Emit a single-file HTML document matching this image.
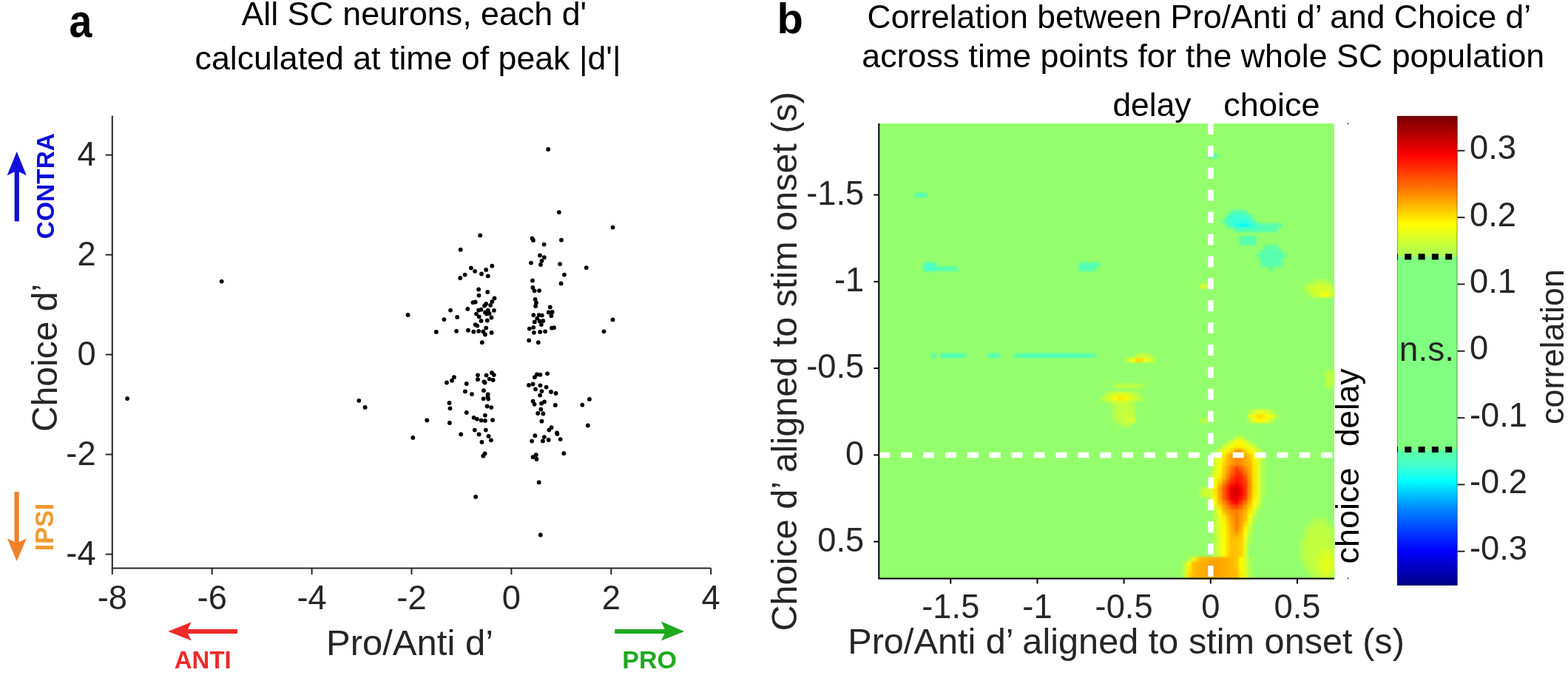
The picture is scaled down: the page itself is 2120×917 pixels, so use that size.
<!DOCTYPE html><html><head><meta charset="utf-8"><title>SC neurons d-prime figure</title><style>html,body{margin:0;padding:0;background:#fff;width:2120px;height:917px;overflow:hidden}svg{display:block}text{font-family:'Liberation Sans', Arial, Helvetica, sans-serif}</style></head><body>
<svg width="2120" height="917" viewBox="0 0 2120 917">
<rect width="2120" height="917" fill="#fff"/>
<g id="panel-a">
<text transform="translate(93.6 49.7) scale(0.955 1.10)" font-size="58" font-weight="bold" fill="#000">a</text>
<text x="326.40" y="34.40" font-size="44.81" font-weight="normal" fill="#000">All SC neurons, each d'</text>
<text x="263.56" y="93.60" font-size="44.71" font-weight="normal" fill="#000">calculated at time of peak |d'|</text>
<path d="M151.8 156.4V768.4H961.2" fill="none" stroke="#262626" stroke-width="2"/>
<path d="M142.8 749.6H151.8" stroke="#262626" stroke-width="2"/>
<text x="129.6" y="763.5" font-size="45.3" text-anchor="end" fill="#262626">-4</text>
<path d="M142.8 614.6H151.8" stroke="#262626" stroke-width="2"/>
<text x="129.6" y="628.5" font-size="45.3" text-anchor="end" fill="#262626">-2</text>
<path d="M142.8 479.6H151.8" stroke="#262626" stroke-width="2"/>
<text x="129.6" y="493.5" font-size="45.3" text-anchor="end" fill="#262626">0</text>
<path d="M142.8 344.6H151.8" stroke="#262626" stroke-width="2"/>
<text x="129.6" y="358.5" font-size="45.3" text-anchor="end" fill="#262626">2</text>
<path d="M142.8 209.6H151.8" stroke="#262626" stroke-width="2"/>
<text x="129.6" y="223.5" font-size="45.3" text-anchor="end" fill="#262626">4</text>
<path d="M151.8 768.4V777" stroke="#262626" stroke-width="2"/>
<text x="151.8" y="823.8" font-size="45.3" text-anchor="middle" fill="#262626">-8</text>
<path d="M286.7 768.4V777" stroke="#262626" stroke-width="2"/>
<text x="286.7" y="823.8" font-size="45.3" text-anchor="middle" fill="#262626">-6</text>
<path d="M421.6 768.4V777" stroke="#262626" stroke-width="2"/>
<text x="421.6" y="823.8" font-size="45.3" text-anchor="middle" fill="#262626">-4</text>
<path d="M556.5 768.4V777" stroke="#262626" stroke-width="2"/>
<text x="556.5" y="823.8" font-size="45.3" text-anchor="middle" fill="#262626">-2</text>
<path d="M691.4 768.4V777" stroke="#262626" stroke-width="2"/>
<text x="691.4" y="823.8" font-size="45.3" text-anchor="middle" fill="#262626">0</text>
<path d="M826.3 768.4V777" stroke="#262626" stroke-width="2"/>
<text x="826.3" y="823.8" font-size="45.3" text-anchor="middle" fill="#262626">2</text>
<path d="M961.2 768.4V777" stroke="#262626" stroke-width="2"/>
<text x="961.2" y="823.8" font-size="45.3" text-anchor="middle" fill="#262626">4</text>
<text x="440.98" y="886.30" font-size="49.01" font-weight="normal" fill="#262626">Pro/Anti d’</text>
<text transform="translate(77.00 584.04) rotate(-90)" font-size="48.03" font-weight="normal" fill="#262626">Choice d’</text>
<g fill="#000">
<circle cx="299.7" cy="380.6" r="2.9"/>
<circle cx="172.1" cy="539.1" r="2.9"/>
<circle cx="485.3" cy="541.8" r="2.9"/>
<circle cx="493.6" cy="550.9" r="2.9"/>
<circle cx="551.6" cy="426.0" r="2.9"/>
<circle cx="577.3" cy="568.4" r="2.9"/>
<circle cx="558.3" cy="591.9" r="2.9"/>
<circle cx="643.2" cy="671.9" r="2.9"/>
<circle cx="741.2" cy="201.9" r="2.9"/>
<circle cx="755.9" cy="287.1" r="2.9"/>
<circle cx="728.7" cy="652.4" r="2.9"/>
<circle cx="730.8" cy="723.5" r="2.9"/>
<circle cx="649.2" cy="318.4" r="2.9"/>
<circle cx="622.7" cy="337.7" r="2.9"/>
<circle cx="665.3" cy="359.7" r="2.9"/>
<circle cx="636.9" cy="362.5" r="2.9"/>
<circle cx="642.1" cy="366.8" r="2.9"/>
<circle cx="657.2" cy="364.9" r="2.9"/>
<circle cx="651.0" cy="370.5" r="2.9"/>
<circle cx="659.8" cy="373.3" r="2.9"/>
<circle cx="628.6" cy="371.6" r="2.9"/>
<circle cx="622.3" cy="376.0" r="2.9"/>
<circle cx="647.1" cy="391.4" r="2.9"/>
<circle cx="659.2" cy="395.0" r="2.9"/>
<circle cx="647.5" cy="399.6" r="2.9"/>
<circle cx="668.5" cy="403.3" r="2.9"/>
<circle cx="665.3" cy="407.9" r="2.9"/>
<circle cx="639.4" cy="409.1" r="2.9"/>
<circle cx="642.7" cy="408.5" r="2.9"/>
<circle cx="657.2" cy="410.9" r="2.9"/>
<circle cx="655.1" cy="413.5" r="2.9"/>
<circle cx="663.1" cy="412.8" r="2.9"/>
<circle cx="609.1" cy="419.6" r="2.9"/>
<circle cx="632.3" cy="417.8" r="2.9"/>
<circle cx="647.1" cy="419.6" r="2.9"/>
<circle cx="650.5" cy="418.7" r="2.9"/>
<circle cx="659.8" cy="419.6" r="2.9"/>
<circle cx="667.9" cy="419.8" r="2.9"/>
<circle cx="644.0" cy="424.6" r="2.9"/>
<circle cx="656.0" cy="422.4" r="2.9"/>
<circle cx="657.9" cy="424.6" r="2.9"/>
<circle cx="661.6" cy="423.9" r="2.9"/>
<circle cx="647.7" cy="428.3" r="2.9"/>
<circle cx="664.4" cy="429.5" r="2.9"/>
<circle cx="618.2" cy="428.9" r="2.9"/>
<circle cx="600.4" cy="432.1" r="2.9"/>
<circle cx="650.5" cy="433.9" r="2.9"/>
<circle cx="658.8" cy="433.5" r="2.9"/>
<circle cx="642.7" cy="439.1" r="2.9"/>
<circle cx="645.3" cy="440.6" r="2.9"/>
<circle cx="657.2" cy="443.6" r="2.9"/>
<circle cx="589.8" cy="448.9" r="2.9"/>
<circle cx="617.1" cy="447.8" r="2.9"/>
<circle cx="633.0" cy="446.7" r="2.9"/>
<circle cx="640.3" cy="448.7" r="2.9"/>
<circle cx="647.1" cy="447.8" r="2.9"/>
<circle cx="653.3" cy="448.4" r="2.9"/>
<circle cx="656.0" cy="452.5" r="2.9"/>
<circle cx="664.6" cy="449.9" r="2.9"/>
<circle cx="651.8" cy="463.2" r="2.9"/>
<circle cx="828.5" cy="307.6" r="2.9"/>
<circle cx="719.5" cy="322.5" r="2.9"/>
<circle cx="721.0" cy="325.0" r="2.9"/>
<circle cx="759.0" cy="324.7" r="2.9"/>
<circle cx="735.6" cy="330.6" r="2.9"/>
<circle cx="730.0" cy="345.4" r="2.9"/>
<circle cx="735.8" cy="348.2" r="2.9"/>
<circle cx="732.5" cy="352.8" r="2.9"/>
<circle cx="731.0" cy="357.9" r="2.9"/>
<circle cx="718.0" cy="355.6" r="2.9"/>
<circle cx="757.1" cy="357.1" r="2.9"/>
<circle cx="792.7" cy="362.1" r="2.9"/>
<circle cx="763.0" cy="371.6" r="2.9"/>
<circle cx="758.6" cy="383.4" r="2.9"/>
<circle cx="720.0" cy="379.4" r="2.9"/>
<circle cx="720.4" cy="389.0" r="2.9"/>
<circle cx="722.6" cy="393.3" r="2.9"/>
<circle cx="729.1" cy="393.1" r="2.9"/>
<circle cx="723.7" cy="404.8" r="2.9"/>
<circle cx="725.0" cy="409.4" r="2.9"/>
<circle cx="724.1" cy="413.9" r="2.9"/>
<circle cx="743.8" cy="415.5" r="2.9"/>
<circle cx="741.7" cy="422.4" r="2.9"/>
<circle cx="746.7" cy="422.0" r="2.9"/>
<circle cx="745.4" cy="427.2" r="2.9"/>
<circle cx="721.3" cy="426.1" r="2.9"/>
<circle cx="728.7" cy="426.1" r="2.9"/>
<circle cx="732.8" cy="426.6" r="2.9"/>
<circle cx="726.3" cy="430.7" r="2.9"/>
<circle cx="722.8" cy="435.4" r="2.9"/>
<circle cx="729.7" cy="434.4" r="2.9"/>
<circle cx="734.3" cy="433.9" r="2.9"/>
<circle cx="731.9" cy="439.1" r="2.9"/>
<circle cx="721.3" cy="442.8" r="2.9"/>
<circle cx="715.8" cy="444.6" r="2.9"/>
<circle cx="746.0" cy="443.7" r="2.9"/>
<circle cx="749.0" cy="443.2" r="2.9"/>
<circle cx="721.9" cy="449.8" r="2.9"/>
<circle cx="730.2" cy="448.9" r="2.9"/>
<circle cx="737.1" cy="448.3" r="2.9"/>
<circle cx="828.5" cy="432.4" r="2.9"/>
<circle cx="816.5" cy="448.3" r="2.9"/>
<circle cx="715.2" cy="460.4" r="2.9"/>
<circle cx="727.8" cy="463.2" r="2.9"/>
<circle cx="613.9" cy="510.2" r="2.9"/>
<circle cx="611.0" cy="514.7" r="2.9"/>
<circle cx="604.0" cy="517.5" r="2.9"/>
<circle cx="630.8" cy="519.0" r="2.9"/>
<circle cx="646.0" cy="507.3" r="2.9"/>
<circle cx="646.0" cy="513.2" r="2.9"/>
<circle cx="657.6" cy="507.6" r="2.9"/>
<circle cx="665.0" cy="504.2" r="2.9"/>
<circle cx="667.8" cy="507.1" r="2.9"/>
<circle cx="661.7" cy="512.6" r="2.9"/>
<circle cx="666.7" cy="514.0" r="2.9"/>
<circle cx="654.5" cy="516.3" r="2.9"/>
<circle cx="655.6" cy="517.5" r="2.9"/>
<circle cx="628.9" cy="529.4" r="2.9"/>
<circle cx="638.0" cy="533.1" r="2.9"/>
<circle cx="654.0" cy="528.2" r="2.9"/>
<circle cx="659.7" cy="533.5" r="2.9"/>
<circle cx="659.4" cy="536.6" r="2.9"/>
<circle cx="653.6" cy="539.3" r="2.9"/>
<circle cx="660.2" cy="539.6" r="2.9"/>
<circle cx="607.5" cy="545.0" r="2.9"/>
<circle cx="608.5" cy="552.3" r="2.9"/>
<circle cx="658.6" cy="549.5" r="2.9"/>
<circle cx="664.3" cy="551.1" r="2.9"/>
<circle cx="630.8" cy="557.9" r="2.9"/>
<circle cx="655.9" cy="561.8" r="2.9"/>
<circle cx="640.6" cy="564.8" r="2.9"/>
<circle cx="644.9" cy="566.8" r="2.9"/>
<circle cx="650.7" cy="568.6" r="2.9"/>
<circle cx="655.9" cy="568.9" r="2.9"/>
<circle cx="666.0" cy="568.2" r="2.9"/>
<circle cx="607.9" cy="572.0" r="2.9"/>
<circle cx="641.8" cy="581.6" r="2.9"/>
<circle cx="656.8" cy="581.6" r="2.9"/>
<circle cx="623.2" cy="587.4" r="2.9"/>
<circle cx="647.6" cy="587.4" r="2.9"/>
<circle cx="660.6" cy="590.0" r="2.9"/>
<circle cx="664.0" cy="595.3" r="2.9"/>
<circle cx="651.5" cy="597.9" r="2.9"/>
<circle cx="655.6" cy="613.4" r="2.9"/>
<circle cx="653.3" cy="616.7" r="2.9"/>
<circle cx="722.9" cy="510.2" r="2.9"/>
<circle cx="726.0" cy="506.5" r="2.9"/>
<circle cx="730.5" cy="506.8" r="2.9"/>
<circle cx="740.0" cy="505.3" r="2.9"/>
<circle cx="715.0" cy="521.0" r="2.9"/>
<circle cx="720.6" cy="519.5" r="2.9"/>
<circle cx="730.5" cy="521.3" r="2.9"/>
<circle cx="724.0" cy="526.3" r="2.9"/>
<circle cx="738.6" cy="523.6" r="2.9"/>
<circle cx="732.5" cy="529.1" r="2.9"/>
<circle cx="745.0" cy="530.0" r="2.9"/>
<circle cx="751.6" cy="532.0" r="2.9"/>
<circle cx="730.2" cy="534.6" r="2.9"/>
<circle cx="720.6" cy="542.7" r="2.9"/>
<circle cx="722.6" cy="546.8" r="2.9"/>
<circle cx="732.1" cy="545.7" r="2.9"/>
<circle cx="736.0" cy="543.4" r="2.9"/>
<circle cx="750.8" cy="548.0" r="2.9"/>
<circle cx="731.3" cy="553.7" r="2.9"/>
<circle cx="727.2" cy="559.0" r="2.9"/>
<circle cx="734.4" cy="559.5" r="2.9"/>
<circle cx="732.5" cy="569.7" r="2.9"/>
<circle cx="745.5" cy="578.2" r="2.9"/>
<circle cx="742.4" cy="581.6" r="2.9"/>
<circle cx="753.0" cy="585.4" r="2.9"/>
<circle cx="753.4" cy="586.9" r="2.9"/>
<circle cx="723.4" cy="589.2" r="2.9"/>
<circle cx="719.1" cy="596.6" r="2.9"/>
<circle cx="735.9" cy="591.1" r="2.9"/>
<circle cx="733.9" cy="596.4" r="2.9"/>
<circle cx="741.7" cy="595.0" r="2.9"/>
<circle cx="757.7" cy="594.1" r="2.9"/>
<circle cx="762.3" cy="613.2" r="2.9"/>
<circle cx="720.6" cy="618.2" r="2.9"/>
<circle cx="724.7" cy="615.2" r="2.9"/>
<circle cx="725.5" cy="621.0" r="2.9"/>
<circle cx="796.9" cy="539.9" r="2.9"/>
<circle cx="787.3" cy="547.7" r="2.9"/>
<circle cx="794.8" cy="575.5" r="2.9"/>
</g>
<path d="M19.6 299.4V226H25.8V299.4Z" fill="#1010d8"/>
<path d="M22.7 204.9L35.8 237.2L22.7 231L9.6 237.2Z" fill="#1010d8"/>
<text transform="translate(72.50 323.20) rotate(-90)" font-size="33.49" font-weight="bold" fill="#0d0dd6">CONTRA</text>
<path d="M19.5 665.2V740H25.7V665.2Z" fill="#f0812a"/>
<path d="M22.6 759.1L35.9 728.3L22.6 734.5L9.9 728.3Z" fill="#f0812a"/>
<text transform="translate(71.50 745.24) rotate(-90)" font-size="34.20" font-weight="bold" fill="#f29a2e">IPSI</text>
<path d="M321 850.9H246V856.9H321Z" fill="#ee2a2a"/>
<path d="M227.2 853.9L258.7 841.3L252.5 853.9L258.7 866.4Z" fill="#ee2a2a"/>
<text x="235.79" y="904.00" font-size="32.99" font-weight="bold" fill="#ee2a2a">ANTI</text>
<path d="M831.2 851H906V857H831.2Z" fill="#1faa1f"/>
<path d="M925.2 853.9L893.9 840.4L900 853.9L893.9 866.5Z" fill="#1faa1f"/>
<text x="841.34" y="904.00" font-size="33.98" font-weight="bold" fill="#1faa1f">PRO</text>
</g>
<g id="panel-b">
<text x="1050.4" y="45.0" font-size="58" font-weight="bold" fill="#000">b</text>
<text x="1172.57" y="38.00" font-size="44.45" font-weight="normal" fill="#000">Correlation between Pro/Anti d’ and Choice d’</text>
<text x="1165.36" y="90.60" font-size="44.76" font-weight="normal" fill="#000">across time points for the whole SC population</text>
<text x="1504.38" y="157.20" font-size="44.43" font-weight="normal" fill="#000">delay</text>
<text x="1654.35" y="157.20" font-size="45.04" font-weight="normal" fill="#000">choice</text>
<rect x="1189.0" y="167.0" width="615.0" height="615.5" fill="#94ff6c"/>
<defs><filter id="hb" x="-5%" y="-5%" width="110%" height="110%"><feGaussianBlur stdDeviation="1.8"/></filter></defs>
<g filter="url(#hb)" shape-rendering="crispEdges">
<rect x="1634.1" y="208.0" width="6.2" height="6.2" fill="#55ffb1"/>
<rect x="1640.0" y="208.0" width="6.2" height="6.2" fill="#50ffb7"/>
<rect x="1235.9" y="260.8" width="6.2" height="6.2" fill="#5cffa6"/>
<rect x="1241.7" y="260.8" width="6.2" height="6.2" fill="#50ffb8"/>
<rect x="1247.6" y="260.8" width="6.2" height="6.2" fill="#52ffb5"/>
<rect x="1663.4" y="284.2" width="6.2" height="6.2" fill="#5affa9"/>
<rect x="1669.3" y="284.2" width="6.2" height="6.2" fill="#52ffb6"/>
<rect x="1675.1" y="284.2" width="6.2" height="6.2" fill="#52ffb5"/>
<rect x="1681.0" y="284.2" width="6.2" height="6.2" fill="#5bffa8"/>
<rect x="1657.6" y="290.1" width="6.2" height="6.2" fill="#4cffbe"/>
<rect x="1663.4" y="290.1" width="6.2" height="6.2" fill="#41ffce"/>
<rect x="1669.3" y="290.1" width="6.2" height="6.2" fill="#3dffd2"/>
<rect x="1675.1" y="290.1" width="6.2" height="6.2" fill="#3dffd3"/>
<rect x="1681.0" y="290.1" width="6.2" height="6.2" fill="#41ffce"/>
<rect x="1686.9" y="290.1" width="6.2" height="6.2" fill="#4cffbd"/>
<rect x="1651.7" y="296.0" width="6.2" height="6.2" fill="#5cffa6"/>
<rect x="1657.6" y="296.0" width="6.2" height="6.2" fill="#46ffc8"/>
<rect x="1663.4" y="296.0" width="6.2" height="6.2" fill="#3affd4"/>
<rect x="1669.3" y="296.0" width="6.2" height="6.2" fill="#33ffd9"/>
<rect x="1675.1" y="296.0" width="6.2" height="6.2" fill="#2dffde"/>
<rect x="1681.0" y="296.0" width="6.2" height="6.2" fill="#2cffdf"/>
<rect x="1686.9" y="296.0" width="6.2" height="6.2" fill="#3fffd1"/>
<rect x="1692.7" y="296.0" width="6.2" height="6.2" fill="#59ffab"/>
<rect x="1657.6" y="301.8" width="6.2" height="6.2" fill="#51ffb7"/>
<rect x="1663.4" y="301.8" width="6.2" height="6.2" fill="#40ffd0"/>
<rect x="1669.3" y="301.8" width="6.2" height="6.2" fill="#22ffe6"/>
<rect x="1675.1" y="301.8" width="6.2" height="6.2" fill="#06fffb"/>
<rect x="1681.0" y="301.8" width="6.2" height="6.2" fill="#00fbff"/>
<rect x="1686.9" y="301.8" width="6.2" height="6.2" fill="#20ffe8"/>
<rect x="1692.7" y="301.8" width="6.2" height="6.2" fill="#43ffcb"/>
<rect x="1698.6" y="301.8" width="6.2" height="6.2" fill="#4cffbd"/>
<rect x="1704.4" y="301.8" width="6.2" height="6.2" fill="#53ffb4"/>
<rect x="1710.3" y="301.8" width="6.2" height="6.2" fill="#55ffb0"/>
<rect x="1716.1" y="301.8" width="6.2" height="6.2" fill="#57ffae"/>
<rect x="1722.0" y="301.8" width="6.2" height="6.2" fill="#59ffab"/>
<rect x="1727.9" y="301.8" width="6.2" height="6.2" fill="#5effa3"/>
<rect x="1669.3" y="307.7" width="6.2" height="6.2" fill="#59ffaa"/>
<rect x="1675.1" y="307.7" width="6.2" height="6.2" fill="#53ffb3"/>
<rect x="1681.0" y="307.7" width="6.2" height="6.2" fill="#59ffab"/>
<rect x="1686.9" y="307.7" width="6.2" height="6.2" fill="#52ffb5"/>
<rect x="1692.7" y="307.7" width="6.2" height="6.2" fill="#4fffb9"/>
<rect x="1698.6" y="307.7" width="6.2" height="6.2" fill="#52ffb5"/>
<rect x="1704.4" y="307.7" width="6.2" height="6.2" fill="#55ffb1"/>
<rect x="1710.3" y="307.7" width="6.2" height="6.2" fill="#56ffaf"/>
<rect x="1716.1" y="307.7" width="6.2" height="6.2" fill="#57ffad"/>
<rect x="1722.0" y="307.7" width="6.2" height="6.2" fill="#5affa9"/>
<rect x="1675.1" y="319.4" width="6.2" height="6.2" fill="#5fffa1"/>
<rect x="1681.0" y="319.4" width="6.2" height="6.2" fill="#57ffad"/>
<rect x="1686.9" y="319.4" width="6.2" height="6.2" fill="#57ffae"/>
<rect x="1692.7" y="319.4" width="6.2" height="6.2" fill="#5bffa8"/>
<rect x="1675.1" y="325.3" width="6.2" height="6.2" fill="#5dffa5"/>
<rect x="1681.0" y="325.3" width="6.2" height="6.2" fill="#57ffae"/>
<rect x="1686.9" y="325.3" width="6.2" height="6.2" fill="#56ffaf"/>
<rect x="1692.7" y="325.3" width="6.2" height="6.2" fill="#59ffab"/>
<rect x="1710.3" y="331.1" width="6.2" height="6.2" fill="#5fffa2"/>
<rect x="1716.1" y="331.1" width="6.2" height="6.2" fill="#5dffa5"/>
<rect x="1722.0" y="331.1" width="6.2" height="6.2" fill="#5fffa2"/>
<rect x="1704.4" y="337.0" width="6.2" height="6.2" fill="#5bffa8"/>
<rect x="1710.3" y="337.0" width="6.2" height="6.2" fill="#58ffad"/>
<rect x="1716.1" y="337.0" width="6.2" height="6.2" fill="#57ffae"/>
<rect x="1722.0" y="337.0" width="6.2" height="6.2" fill="#58ffad"/>
<rect x="1727.9" y="337.0" width="6.2" height="6.2" fill="#5bffa7"/>
<rect x="1698.6" y="342.9" width="6.2" height="6.2" fill="#5fffa1"/>
<rect x="1704.4" y="342.9" width="6.2" height="6.2" fill="#58ffac"/>
<rect x="1710.3" y="342.9" width="17.9" height="6.2" fill="#56ffaf"/>
<rect x="1727.9" y="342.9" width="6.2" height="6.2" fill="#58ffac"/>
<rect x="1733.7" y="342.9" width="6.2" height="6.2" fill="#60ffa0"/>
<rect x="1704.4" y="348.7" width="6.2" height="6.2" fill="#58ffab"/>
<rect x="1710.3" y="348.7" width="6.2" height="6.2" fill="#56ffae"/>
<rect x="1716.1" y="348.7" width="6.2" height="6.2" fill="#56ffaf"/>
<rect x="1722.0" y="348.7" width="6.2" height="6.2" fill="#56ffae"/>
<rect x="1727.9" y="348.7" width="6.2" height="6.2" fill="#59ffab"/>
<rect x="1247.6" y="354.6" width="6.2" height="6.2" fill="#55ffb1"/>
<rect x="1253.4" y="354.6" width="6.2" height="6.2" fill="#4affc2"/>
<rect x="1259.3" y="354.6" width="6.2" height="6.2" fill="#4cffbe"/>
<rect x="1458.4" y="354.6" width="6.2" height="6.2" fill="#57ffae"/>
<rect x="1464.3" y="354.6" width="6.2" height="6.2" fill="#51ffb6"/>
<rect x="1470.1" y="354.6" width="6.2" height="6.2" fill="#51ffb7"/>
<rect x="1476.0" y="354.6" width="6.2" height="6.2" fill="#52ffb4"/>
<rect x="1481.9" y="354.6" width="6.2" height="6.2" fill="#5bffa7"/>
<rect x="1704.4" y="354.6" width="6.2" height="6.2" fill="#5dffa5"/>
<rect x="1710.3" y="354.6" width="6.2" height="6.2" fill="#59ffab"/>
<rect x="1716.1" y="354.6" width="6.2" height="6.2" fill="#58ffad"/>
<rect x="1722.0" y="354.6" width="6.2" height="6.2" fill="#59ffab"/>
<rect x="1727.9" y="354.6" width="6.2" height="6.2" fill="#5dffa5"/>
<rect x="1247.6" y="360.4" width="6.2" height="6.2" fill="#4cffbd"/>
<rect x="1253.4" y="360.4" width="6.2" height="6.2" fill="#45ffc8"/>
<rect x="1259.3" y="360.4" width="6.2" height="6.2" fill="#47ffc6"/>
<rect x="1265.1" y="360.4" width="6.2" height="6.2" fill="#57ffae"/>
<rect x="1271.0" y="360.4" width="6.2" height="6.2" fill="#5affaa"/>
<rect x="1276.9" y="360.4" width="12.0" height="6.2" fill="#57ffae"/>
<rect x="1288.6" y="360.4" width="6.2" height="6.2" fill="#5bffa7"/>
<rect x="1458.4" y="360.4" width="6.2" height="6.2" fill="#5affa8"/>
<rect x="1464.3" y="360.4" width="6.2" height="6.2" fill="#53ffb3"/>
<rect x="1470.1" y="360.4" width="6.2" height="6.2" fill="#52ffb5"/>
<rect x="1476.0" y="360.4" width="6.2" height="6.2" fill="#55ffb1"/>
<rect x="1716.1" y="360.4" width="6.2" height="6.2" fill="#60ffa0"/>
<rect x="1774.7" y="378.0" width="6.2" height="6.2" fill="#b3ff4d"/>
<rect x="1780.6" y="378.0" width="6.2" height="6.2" fill="#b9ff47"/>
<rect x="1786.4" y="378.0" width="6.2" height="6.2" fill="#b7ff49"/>
<rect x="1792.3" y="378.0" width="6.2" height="6.2" fill="#acff54"/>
<rect x="1622.4" y="383.9" width="6.2" height="6.2" fill="#d9ff26"/>
<rect x="1628.3" y="383.9" width="6.2" height="6.2" fill="#d2ff2e"/>
<rect x="1763.0" y="383.9" width="6.2" height="6.2" fill="#aeff52"/>
<rect x="1768.9" y="383.9" width="6.2" height="6.2" fill="#c4ff3c"/>
<rect x="1774.7" y="383.9" width="6.2" height="6.2" fill="#ceff32"/>
<rect x="1780.6" y="383.9" width="6.2" height="6.2" fill="#d0ff30"/>
<rect x="1786.4" y="383.9" width="6.2" height="6.2" fill="#cfff30"/>
<rect x="1792.3" y="383.9" width="6.2" height="6.2" fill="#cbff35"/>
<rect x="1798.1" y="383.9" width="6.2" height="6.2" fill="#bbff45"/>
<rect x="1763.0" y="389.8" width="6.2" height="6.2" fill="#b5ff4b"/>
<rect x="1768.9" y="389.8" width="6.2" height="6.2" fill="#c9ff37"/>
<rect x="1774.7" y="389.8" width="6.2" height="6.2" fill="#d1ff2f"/>
<rect x="1780.6" y="389.8" width="6.2" height="6.2" fill="#d6ff2a"/>
<rect x="1786.4" y="389.8" width="6.2" height="6.2" fill="#daff25"/>
<rect x="1792.3" y="389.8" width="6.2" height="6.2" fill="#d9ff27"/>
<rect x="1798.1" y="389.8" width="6.2" height="6.2" fill="#c8ff38"/>
<rect x="1768.9" y="395.6" width="6.2" height="6.2" fill="#b7ff49"/>
<rect x="1774.7" y="395.6" width="6.2" height="6.2" fill="#caff36"/>
<rect x="1780.6" y="395.6" width="6.2" height="6.2" fill="#dfff20"/>
<rect x="1786.4" y="395.6" width="6.2" height="6.2" fill="#f5ff0a"/>
<rect x="1792.3" y="395.6" width="6.2" height="6.2" fill="#f3ff0c"/>
<rect x="1798.1" y="395.6" width="6.2" height="6.2" fill="#caff35"/>
<rect x="1259.3" y="477.7" width="6.2" height="6.2" fill="#50ffb8"/>
<rect x="1271.0" y="477.7" width="6.2" height="6.2" fill="#51ffb6"/>
<rect x="1276.9" y="477.7" width="6.2" height="6.2" fill="#4bffc0"/>
<rect x="1282.7" y="477.7" width="12.0" height="6.2" fill="#4affc1"/>
<rect x="1294.4" y="477.7" width="6.2" height="6.2" fill="#4dffbd"/>
<rect x="1300.3" y="477.7" width="6.2" height="6.2" fill="#5bffa8"/>
<rect x="1335.4" y="477.7" width="6.2" height="6.2" fill="#51ffb6"/>
<rect x="1341.3" y="477.7" width="6.2" height="6.2" fill="#50ffb8"/>
<rect x="1347.1" y="477.7" width="6.2" height="6.2" fill="#56ffaf"/>
<rect x="1370.6" y="477.7" width="6.2" height="6.2" fill="#5cffa6"/>
<rect x="1376.4" y="477.7" width="6.2" height="6.2" fill="#55ffb0"/>
<rect x="1382.3" y="477.7" width="6.2" height="6.2" fill="#50ffb7"/>
<rect x="1388.1" y="477.7" width="6.2" height="6.2" fill="#4dffbc"/>
<rect x="1394.0" y="477.7" width="6.2" height="6.2" fill="#4bffbf"/>
<rect x="1399.9" y="477.7" width="6.2" height="6.2" fill="#4affc0"/>
<rect x="1405.7" y="477.7" width="41.3" height="6.2" fill="#4affc1"/>
<rect x="1446.7" y="477.7" width="6.2" height="6.2" fill="#4bffc0"/>
<rect x="1452.6" y="477.7" width="6.2" height="6.2" fill="#4cffbe"/>
<rect x="1458.4" y="477.7" width="6.2" height="6.2" fill="#4effba"/>
<rect x="1464.3" y="477.7" width="6.2" height="6.2" fill="#52ffb5"/>
<rect x="1470.1" y="477.7" width="6.2" height="6.2" fill="#58ffad"/>
<rect x="1476.0" y="477.7" width="6.2" height="6.2" fill="#5fffa1"/>
<rect x="1534.6" y="477.7" width="6.2" height="6.2" fill="#b9ff47"/>
<rect x="1540.4" y="477.7" width="6.2" height="6.2" fill="#c7ff39"/>
<rect x="1546.3" y="477.7" width="6.2" height="6.2" fill="#c1ff3f"/>
<rect x="1552.1" y="477.7" width="6.2" height="6.2" fill="#b2ff4e"/>
<rect x="1522.9" y="483.5" width="6.2" height="6.2" fill="#cfff31"/>
<rect x="1528.7" y="483.5" width="6.2" height="6.2" fill="#f8ff07"/>
<rect x="1534.6" y="483.5" width="6.2" height="6.2" fill="#ffd700"/>
<rect x="1540.4" y="483.5" width="6.2" height="6.2" fill="#ffdb00"/>
<rect x="1546.3" y="483.5" width="6.2" height="6.2" fill="#f6ff09"/>
<rect x="1552.1" y="483.5" width="6.2" height="6.2" fill="#d7ff28"/>
<rect x="1558.0" y="483.5" width="6.2" height="6.2" fill="#baff46"/>
<rect x="1792.3" y="501.1" width="6.2" height="6.2" fill="#bbff45"/>
<rect x="1798.1" y="501.1" width="6.2" height="6.2" fill="#b4ff4c"/>
<rect x="1792.3" y="507.0" width="6.2" height="6.2" fill="#beff42"/>
<rect x="1798.1" y="507.0" width="6.2" height="6.2" fill="#bbff45"/>
<rect x="1792.3" y="512.9" width="6.2" height="6.2" fill="#beff42"/>
<rect x="1798.1" y="512.9" width="6.2" height="6.2" fill="#baff46"/>
<rect x="1505.3" y="518.7" width="6.2" height="6.2" fill="#b7ff49"/>
<rect x="1511.1" y="518.7" width="6.2" height="6.2" fill="#bdff43"/>
<rect x="1517.0" y="518.7" width="17.9" height="6.2" fill="#beff42"/>
<rect x="1534.6" y="518.7" width="6.2" height="6.2" fill="#baff46"/>
<rect x="1540.4" y="518.7" width="6.2" height="6.2" fill="#afff51"/>
<rect x="1792.3" y="518.7" width="6.2" height="6.2" fill="#b7ff49"/>
<rect x="1798.1" y="518.7" width="6.2" height="6.2" fill="#aeff52"/>
<rect x="1493.6" y="530.4" width="6.2" height="6.2" fill="#b9ff47"/>
<rect x="1499.4" y="530.4" width="6.2" height="6.2" fill="#caff36"/>
<rect x="1505.3" y="530.4" width="6.2" height="6.2" fill="#d9ff26"/>
<rect x="1511.1" y="530.4" width="6.2" height="6.2" fill="#e4ff1c"/>
<rect x="1517.0" y="530.4" width="6.2" height="6.2" fill="#e1ff1e"/>
<rect x="1522.9" y="530.4" width="6.2" height="6.2" fill="#d4ff2c"/>
<rect x="1528.7" y="530.4" width="6.2" height="6.2" fill="#c4ff3c"/>
<rect x="1534.6" y="530.4" width="6.2" height="6.2" fill="#b3ff4d"/>
<rect x="1487.7" y="536.3" width="6.2" height="6.2" fill="#b6ff4a"/>
<rect x="1493.6" y="536.3" width="6.2" height="6.2" fill="#c9ff37"/>
<rect x="1499.4" y="536.3" width="6.2" height="6.2" fill="#ddff23"/>
<rect x="1505.3" y="536.3" width="6.2" height="6.2" fill="#f9ff07"/>
<rect x="1511.1" y="536.3" width="6.2" height="6.2" fill="#ffe800"/>
<rect x="1517.0" y="536.3" width="6.2" height="6.2" fill="#fff000"/>
<rect x="1522.9" y="536.3" width="6.2" height="6.2" fill="#eeff11"/>
<rect x="1528.7" y="536.3" width="6.2" height="6.2" fill="#d5ff2a"/>
<rect x="1534.6" y="536.3" width="6.2" height="6.2" fill="#c3ff3d"/>
<rect x="1540.4" y="536.3" width="6.2" height="6.2" fill="#aeff52"/>
<rect x="1499.4" y="542.2" width="6.2" height="6.2" fill="#b3ff4d"/>
<rect x="1505.3" y="542.2" width="6.2" height="6.2" fill="#c2ff3e"/>
<rect x="1511.1" y="542.2" width="6.2" height="6.2" fill="#ceff32"/>
<rect x="1517.0" y="542.2" width="6.2" height="6.2" fill="#cbff35"/>
<rect x="1522.9" y="542.2" width="6.2" height="6.2" fill="#bdff43"/>
<rect x="1528.7" y="542.2" width="6.2" height="6.2" fill="#adff53"/>
<rect x="1505.3" y="548.0" width="6.2" height="6.2" fill="#b4ff4c"/>
<rect x="1511.1" y="548.0" width="6.2" height="6.2" fill="#bfff41"/>
<rect x="1517.0" y="548.0" width="6.2" height="6.2" fill="#c1ff3f"/>
<rect x="1522.9" y="548.0" width="6.2" height="6.2" fill="#bfff41"/>
<rect x="1528.7" y="548.0" width="6.2" height="6.2" fill="#b4ff4c"/>
<rect x="1505.3" y="553.9" width="6.2" height="6.2" fill="#bbff45"/>
<rect x="1511.1" y="553.9" width="6.2" height="6.2" fill="#c1ff3f"/>
<rect x="1517.0" y="553.9" width="12.0" height="6.2" fill="#c2ff3e"/>
<rect x="1528.7" y="553.9" width="6.2" height="6.2" fill="#bbff45"/>
<rect x="1686.9" y="553.9" width="6.2" height="6.2" fill="#acff54"/>
<rect x="1692.7" y="553.9" width="6.2" height="6.2" fill="#cfff31"/>
<rect x="1698.6" y="553.9" width="6.2" height="6.2" fill="#e1ff1f"/>
<rect x="1704.4" y="553.9" width="6.2" height="6.2" fill="#e3ff1d"/>
<rect x="1710.3" y="553.9" width="6.2" height="6.2" fill="#d7ff28"/>
<rect x="1716.1" y="553.9" width="6.2" height="6.2" fill="#beff42"/>
<rect x="1505.3" y="559.7" width="6.2" height="6.2" fill="#baff46"/>
<rect x="1511.1" y="559.7" width="6.2" height="6.2" fill="#c1ff3f"/>
<rect x="1517.0" y="559.7" width="6.2" height="6.2" fill="#c3ff3d"/>
<rect x="1522.9" y="559.7" width="6.2" height="6.2" fill="#c9ff37"/>
<rect x="1528.7" y="559.7" width="6.2" height="6.2" fill="#c6ff3a"/>
<rect x="1686.9" y="559.7" width="6.2" height="6.2" fill="#dcff23"/>
<rect x="1692.7" y="559.7" width="6.2" height="6.2" fill="#fff900"/>
<rect x="1698.6" y="559.7" width="6.2" height="6.2" fill="#ffd900"/>
<rect x="1704.4" y="559.7" width="6.2" height="6.2" fill="#ffe300"/>
<rect x="1710.3" y="559.7" width="6.2" height="6.2" fill="#fcff03"/>
<rect x="1716.1" y="559.7" width="6.2" height="6.2" fill="#e5ff1a"/>
<rect x="1722.0" y="559.7" width="6.2" height="6.2" fill="#c2ff3e"/>
<rect x="1505.3" y="565.6" width="6.2" height="6.2" fill="#b0ff50"/>
<rect x="1511.1" y="565.6" width="6.2" height="6.2" fill="#bcff44"/>
<rect x="1517.0" y="565.6" width="6.2" height="6.2" fill="#c2ff3e"/>
<rect x="1522.9" y="565.6" width="6.2" height="6.2" fill="#d6ff29"/>
<rect x="1528.7" y="565.6" width="6.2" height="6.2" fill="#dbff25"/>
<rect x="1622.4" y="565.6" width="6.2" height="6.2" fill="#bdff43"/>
<rect x="1628.3" y="565.6" width="6.2" height="6.2" fill="#bcff44"/>
<rect x="1686.9" y="565.6" width="6.2" height="6.2" fill="#b8ff48"/>
<rect x="1692.7" y="565.6" width="6.2" height="6.2" fill="#e8ff17"/>
<rect x="1698.6" y="565.6" width="6.2" height="6.2" fill="#fff700"/>
<rect x="1704.4" y="565.6" width="6.2" height="6.2" fill="#fffc00"/>
<rect x="1710.3" y="565.6" width="6.2" height="6.2" fill="#e9ff17"/>
<rect x="1716.1" y="565.6" width="6.2" height="6.2" fill="#c9ff37"/>
<rect x="1511.1" y="571.5" width="6.2" height="6.2" fill="#aaff56"/>
<rect x="1517.0" y="571.5" width="6.2" height="6.2" fill="#b1ff4f"/>
<rect x="1522.9" y="571.5" width="6.2" height="6.2" fill="#b3ff4d"/>
<rect x="1669.3" y="589.1" width="6.2" height="6.2" fill="#bfff41"/>
<rect x="1675.1" y="589.1" width="6.2" height="6.2" fill="#c7ff39"/>
<rect x="1657.6" y="594.9" width="6.2" height="6.2" fill="#b0ff50"/>
<rect x="1663.4" y="594.9" width="6.2" height="6.2" fill="#e0ff20"/>
<rect x="1669.3" y="594.9" width="6.2" height="6.2" fill="#fffe00"/>
<rect x="1675.1" y="594.9" width="6.2" height="6.2" fill="#fff900"/>
<rect x="1681.0" y="594.9" width="6.2" height="6.2" fill="#e3ff1c"/>
<rect x="1686.9" y="594.9" width="6.2" height="6.2" fill="#b6ff4a"/>
<rect x="1651.7" y="600.8" width="6.2" height="6.2" fill="#d2ff2d"/>
<rect x="1657.6" y="600.8" width="6.2" height="6.2" fill="#e4ff1b"/>
<rect x="1663.4" y="600.8" width="6.2" height="6.2" fill="#f7ff09"/>
<rect x="1669.3" y="600.8" width="6.2" height="6.2" fill="#fff100"/>
<rect x="1675.1" y="600.8" width="6.2" height="6.2" fill="#fff200"/>
<rect x="1681.0" y="600.8" width="6.2" height="6.2" fill="#f6ff09"/>
<rect x="1686.9" y="600.8" width="6.2" height="6.2" fill="#e4ff1b"/>
<rect x="1692.7" y="600.8" width="6.2" height="6.2" fill="#d2ff2e"/>
<rect x="1645.9" y="606.6" width="6.2" height="6.2" fill="#d3ff2d"/>
<rect x="1651.7" y="606.6" width="6.2" height="6.2" fill="#eeff11"/>
<rect x="1657.6" y="606.6" width="6.2" height="6.2" fill="#fff000"/>
<rect x="1663.4" y="606.6" width="6.2" height="6.2" fill="#ffca00"/>
<rect x="1669.3" y="606.6" width="6.2" height="6.2" fill="#ff9500"/>
<rect x="1675.1" y="606.6" width="6.2" height="6.2" fill="#ffa100"/>
<rect x="1681.0" y="606.6" width="6.2" height="6.2" fill="#ffd100"/>
<rect x="1686.9" y="606.6" width="6.2" height="6.2" fill="#fff700"/>
<rect x="1692.7" y="606.6" width="6.2" height="6.2" fill="#eaff15"/>
<rect x="1698.6" y="606.6" width="6.2" height="6.2" fill="#cdff33"/>
<rect x="1640.0" y="612.5" width="6.2" height="6.2" fill="#c5ff3b"/>
<rect x="1645.9" y="612.5" width="6.2" height="6.2" fill="#edff12"/>
<rect x="1651.7" y="612.5" width="6.2" height="6.2" fill="#ffe900"/>
<rect x="1657.6" y="612.5" width="6.2" height="6.2" fill="#ffbb00"/>
<rect x="1663.4" y="612.5" width="6.2" height="6.2" fill="#ffa000"/>
<rect x="1669.3" y="612.5" width="6.2" height="6.2" fill="#ff8600"/>
<rect x="1675.1" y="612.5" width="6.2" height="6.2" fill="#ff9000"/>
<rect x="1681.0" y="612.5" width="6.2" height="6.2" fill="#ffab00"/>
<rect x="1686.9" y="612.5" width="6.2" height="6.2" fill="#ffcb00"/>
<rect x="1692.7" y="612.5" width="6.2" height="6.2" fill="#fff800"/>
<rect x="1698.6" y="612.5" width="6.2" height="6.2" fill="#e4ff1c"/>
<rect x="1704.4" y="612.5" width="6.2" height="6.2" fill="#b7ff49"/>
<rect x="1640.0" y="618.4" width="6.2" height="6.2" fill="#ceff32"/>
<rect x="1645.9" y="618.4" width="6.2" height="6.2" fill="#f3ff0c"/>
<rect x="1651.7" y="618.4" width="6.2" height="6.2" fill="#ffde00"/>
<rect x="1657.6" y="618.4" width="6.2" height="6.2" fill="#ffb500"/>
<rect x="1663.4" y="618.4" width="6.2" height="6.2" fill="#ff9d00"/>
<rect x="1669.3" y="618.4" width="6.2" height="6.2" fill="#ff8500"/>
<rect x="1675.1" y="618.4" width="6.2" height="6.2" fill="#ff8e00"/>
<rect x="1681.0" y="618.4" width="6.2" height="6.2" fill="#ffa600"/>
<rect x="1686.9" y="618.4" width="6.2" height="6.2" fill="#ffbf00"/>
<rect x="1692.7" y="618.4" width="6.2" height="6.2" fill="#fff200"/>
<rect x="1698.6" y="618.4" width="6.2" height="6.2" fill="#e4ff1c"/>
<rect x="1704.4" y="618.4" width="6.2" height="6.2" fill="#b3ff4d"/>
<rect x="1640.0" y="624.2" width="6.2" height="6.2" fill="#d4ff2b"/>
<rect x="1645.9" y="624.2" width="6.2" height="6.2" fill="#faff05"/>
<rect x="1651.7" y="624.2" width="6.2" height="6.2" fill="#ffd100"/>
<rect x="1657.6" y="624.2" width="6.2" height="6.2" fill="#ffb000"/>
<rect x="1663.4" y="624.2" width="6.2" height="6.2" fill="#ff9a00"/>
<rect x="1669.3" y="624.2" width="6.2" height="6.2" fill="#ff8400"/>
<rect x="1675.1" y="624.2" width="6.2" height="6.2" fill="#ff8d00"/>
<rect x="1681.0" y="624.2" width="6.2" height="6.2" fill="#ffa300"/>
<rect x="1686.9" y="624.2" width="6.2" height="6.2" fill="#ffb900"/>
<rect x="1692.7" y="624.2" width="6.2" height="6.2" fill="#ffea00"/>
<rect x="1698.6" y="624.2" width="6.2" height="6.2" fill="#e4ff1c"/>
<rect x="1704.4" y="624.2" width="6.2" height="6.2" fill="#b0ff50"/>
<rect x="1640.0" y="630.1" width="6.2" height="6.2" fill="#d9ff26"/>
<rect x="1645.9" y="630.1" width="6.2" height="6.2" fill="#fffd00"/>
<rect x="1651.7" y="630.1" width="6.2" height="6.2" fill="#ffc700"/>
<rect x="1657.6" y="630.1" width="6.2" height="6.2" fill="#ff9a00"/>
<rect x="1663.4" y="630.1" width="6.2" height="6.2" fill="#ff7000"/>
<rect x="1669.3" y="630.1" width="6.2" height="6.2" fill="#ff3d00"/>
<rect x="1675.1" y="630.1" width="6.2" height="6.2" fill="#ff6000"/>
<rect x="1681.0" y="630.1" width="6.2" height="6.2" fill="#ff8600"/>
<rect x="1686.9" y="630.1" width="6.2" height="6.2" fill="#ffaf00"/>
<rect x="1692.7" y="630.1" width="6.2" height="6.2" fill="#ffe600"/>
<rect x="1698.6" y="630.1" width="6.2" height="6.2" fill="#e4ff1b"/>
<rect x="1704.4" y="630.1" width="6.2" height="6.2" fill="#aeff52"/>
<rect x="1634.1" y="636.0" width="6.2" height="6.2" fill="#aaff56"/>
<rect x="1640.0" y="636.0" width="6.2" height="6.2" fill="#dfff21"/>
<rect x="1645.9" y="636.0" width="6.2" height="6.2" fill="#fff600"/>
<rect x="1651.7" y="636.0" width="6.2" height="6.2" fill="#ffbf00"/>
<rect x="1657.6" y="636.0" width="6.2" height="6.2" fill="#ff8d00"/>
<rect x="1663.4" y="636.0" width="6.2" height="6.2" fill="#ff5e00"/>
<rect x="1669.3" y="636.0" width="6.2" height="6.2" fill="#ff2d00"/>
<rect x="1675.1" y="636.0" width="6.2" height="6.2" fill="#ff3f00"/>
<rect x="1681.0" y="636.0" width="6.2" height="6.2" fill="#ff7300"/>
<rect x="1686.9" y="636.0" width="6.2" height="6.2" fill="#ffa900"/>
<rect x="1692.7" y="636.0" width="6.2" height="6.2" fill="#ffe500"/>
<rect x="1698.6" y="636.0" width="6.2" height="6.2" fill="#e4ff1b"/>
<rect x="1704.4" y="636.0" width="6.2" height="6.2" fill="#aeff52"/>
<rect x="1634.1" y="641.8" width="6.2" height="6.2" fill="#b2ff4e"/>
<rect x="1640.0" y="641.8" width="6.2" height="6.2" fill="#e4ff1b"/>
<rect x="1645.9" y="641.8" width="6.2" height="6.2" fill="#ffee00"/>
<rect x="1651.7" y="641.8" width="6.2" height="6.2" fill="#ffb500"/>
<rect x="1657.6" y="641.8" width="6.2" height="6.2" fill="#ff7a00"/>
<rect x="1663.4" y="641.8" width="6.2" height="6.2" fill="#ff4300"/>
<rect x="1669.3" y="641.8" width="6.2" height="6.2" fill="#ff2300"/>
<rect x="1675.1" y="641.8" width="6.2" height="6.2" fill="#ff2700"/>
<rect x="1681.0" y="641.8" width="6.2" height="6.2" fill="#ff4b00"/>
<rect x="1686.9" y="641.8" width="6.2" height="6.2" fill="#ff9d00"/>
<rect x="1692.7" y="641.8" width="6.2" height="6.2" fill="#ffe500"/>
<rect x="1698.6" y="641.8" width="6.2" height="6.2" fill="#e4ff1b"/>
<rect x="1704.4" y="641.8" width="6.2" height="6.2" fill="#aeff52"/>
<rect x="1634.1" y="647.7" width="6.2" height="6.2" fill="#c0ff40"/>
<rect x="1640.0" y="647.7" width="6.2" height="6.2" fill="#f2ff0d"/>
<rect x="1645.9" y="647.7" width="6.2" height="6.2" fill="#ffd300"/>
<rect x="1651.7" y="647.7" width="6.2" height="6.2" fill="#ff9200"/>
<rect x="1657.6" y="647.7" width="6.2" height="6.2" fill="#ff5200"/>
<rect x="1663.4" y="647.7" width="6.2" height="6.2" fill="#ff2500"/>
<rect x="1669.3" y="647.7" width="6.2" height="6.2" fill="#ff0900"/>
<rect x="1675.1" y="647.7" width="6.2" height="6.2" fill="#ff1d00"/>
<rect x="1681.0" y="647.7" width="6.2" height="6.2" fill="#ff4000"/>
<rect x="1686.9" y="647.7" width="6.2" height="6.2" fill="#ff9700"/>
<rect x="1692.7" y="647.7" width="6.2" height="6.2" fill="#ffe400"/>
<rect x="1698.6" y="647.7" width="6.2" height="6.2" fill="#e4ff1b"/>
<rect x="1704.4" y="647.7" width="6.2" height="6.2" fill="#aeff52"/>
<rect x="1634.1" y="653.5" width="6.2" height="6.2" fill="#d2ff2e"/>
<rect x="1640.0" y="653.5" width="6.2" height="6.2" fill="#fff800"/>
<rect x="1645.9" y="653.5" width="6.2" height="6.2" fill="#ffb000"/>
<rect x="1651.7" y="653.5" width="6.2" height="6.2" fill="#ff6b00"/>
<rect x="1657.6" y="653.5" width="6.2" height="6.2" fill="#ff2b00"/>
<rect x="1663.4" y="653.5" width="6.2" height="6.2" fill="#ff0400"/>
<rect x="1669.3" y="653.5" width="6.2" height="6.2" fill="#eb0000"/>
<rect x="1675.1" y="653.5" width="6.2" height="6.2" fill="#ff0d00"/>
<rect x="1681.0" y="653.5" width="6.2" height="6.2" fill="#ff3400"/>
<rect x="1686.9" y="653.5" width="6.2" height="6.2" fill="#ff9100"/>
<rect x="1692.7" y="653.5" width="6.2" height="6.2" fill="#ffe300"/>
<rect x="1698.6" y="653.5" width="6.2" height="6.2" fill="#e4ff1b"/>
<rect x="1704.4" y="653.5" width="6.2" height="6.2" fill="#aeff52"/>
<rect x="1622.4" y="659.4" width="6.2" height="6.2" fill="#b3ff4d"/>
<rect x="1628.3" y="659.4" width="6.2" height="6.2" fill="#d2ff2e"/>
<rect x="1634.1" y="659.4" width="6.2" height="6.2" fill="#d9ff26"/>
<rect x="1640.0" y="659.4" width="6.2" height="6.2" fill="#ffe600"/>
<rect x="1645.9" y="659.4" width="6.2" height="6.2" fill="#ff9b00"/>
<rect x="1651.7" y="659.4" width="6.2" height="6.2" fill="#ff5300"/>
<rect x="1657.6" y="659.4" width="6.2" height="6.2" fill="#ff1700"/>
<rect x="1663.4" y="659.4" width="6.2" height="6.2" fill="#ea0000"/>
<rect x="1669.3" y="659.4" width="6.2" height="6.2" fill="#d80000"/>
<rect x="1675.1" y="659.4" width="6.2" height="6.2" fill="#fb0000"/>
<rect x="1681.0" y="659.4" width="6.2" height="6.2" fill="#ff2b00"/>
<rect x="1686.9" y="659.4" width="6.2" height="6.2" fill="#ff8e00"/>
<rect x="1692.7" y="659.4" width="6.2" height="6.2" fill="#ffe300"/>
<rect x="1698.6" y="659.4" width="6.2" height="6.2" fill="#e3ff1c"/>
<rect x="1704.4" y="659.4" width="6.2" height="6.2" fill="#adff53"/>
<rect x="1622.4" y="665.3" width="6.2" height="6.2" fill="#c1ff3f"/>
<rect x="1628.3" y="665.3" width="6.2" height="6.2" fill="#d9ff27"/>
<rect x="1634.1" y="665.3" width="6.2" height="6.2" fill="#d6ff2a"/>
<rect x="1640.0" y="665.3" width="6.2" height="6.2" fill="#ffeb00"/>
<rect x="1645.9" y="665.3" width="6.2" height="6.2" fill="#ff9f00"/>
<rect x="1651.7" y="665.3" width="6.2" height="6.2" fill="#ff5500"/>
<rect x="1657.6" y="665.3" width="6.2" height="6.2" fill="#ff1400"/>
<rect x="1663.4" y="665.3" width="6.2" height="6.2" fill="#e40000"/>
<rect x="1669.3" y="665.3" width="6.2" height="6.2" fill="#d20000"/>
<rect x="1675.1" y="665.3" width="6.2" height="6.2" fill="#f80000"/>
<rect x="1681.0" y="665.3" width="6.2" height="6.2" fill="#ff2b00"/>
<rect x="1686.9" y="665.3" width="6.2" height="6.2" fill="#ff9500"/>
<rect x="1692.7" y="665.3" width="6.2" height="6.2" fill="#ffe700"/>
<rect x="1698.6" y="665.3" width="6.2" height="6.2" fill="#e0ff1f"/>
<rect x="1704.4" y="665.3" width="6.2" height="6.2" fill="#a9ff57"/>
<rect x="1634.1" y="671.1" width="6.2" height="6.2" fill="#d2ff2e"/>
<rect x="1640.0" y="671.1" width="6.2" height="6.2" fill="#fff100"/>
<rect x="1645.9" y="671.1" width="6.2" height="6.2" fill="#ffa400"/>
<rect x="1651.7" y="671.1" width="6.2" height="6.2" fill="#ff5c00"/>
<rect x="1657.6" y="671.1" width="6.2" height="6.2" fill="#ff1e00"/>
<rect x="1663.4" y="671.1" width="6.2" height="6.2" fill="#f10000"/>
<rect x="1669.3" y="671.1" width="6.2" height="6.2" fill="#e20000"/>
<rect x="1675.1" y="671.1" width="6.2" height="6.2" fill="#ff0700"/>
<rect x="1681.0" y="671.1" width="6.2" height="6.2" fill="#ff3c00"/>
<rect x="1686.9" y="671.1" width="6.2" height="6.2" fill="#ff9f00"/>
<rect x="1692.7" y="671.1" width="6.2" height="6.2" fill="#ffec00"/>
<rect x="1698.6" y="671.1" width="6.2" height="6.2" fill="#ddff22"/>
<rect x="1634.1" y="677.0" width="6.2" height="6.2" fill="#b5ff4b"/>
<rect x="1640.0" y="677.0" width="6.2" height="6.2" fill="#f2ff0d"/>
<rect x="1645.9" y="677.0" width="6.2" height="6.2" fill="#ffba00"/>
<rect x="1651.7" y="677.0" width="6.2" height="6.2" fill="#ff8500"/>
<rect x="1657.6" y="677.0" width="6.2" height="6.2" fill="#ff4f00"/>
<rect x="1663.4" y="677.0" width="6.2" height="6.2" fill="#ff1900"/>
<rect x="1669.3" y="677.0" width="6.2" height="6.2" fill="#fd0000"/>
<rect x="1675.1" y="677.0" width="6.2" height="6.2" fill="#ff3000"/>
<rect x="1681.0" y="677.0" width="6.2" height="6.2" fill="#ff7500"/>
<rect x="1686.9" y="677.0" width="6.2" height="6.2" fill="#ffbc00"/>
<rect x="1692.7" y="677.0" width="6.2" height="6.2" fill="#ffff00"/>
<rect x="1698.6" y="677.0" width="6.2" height="6.2" fill="#d2ff2e"/>
<rect x="1640.0" y="682.8" width="6.2" height="6.2" fill="#d2ff2e"/>
<rect x="1645.9" y="682.8" width="6.2" height="6.2" fill="#ffdf00"/>
<rect x="1651.7" y="682.8" width="6.2" height="6.2" fill="#ffa300"/>
<rect x="1657.6" y="682.8" width="6.2" height="6.2" fill="#ff7b00"/>
<rect x="1663.4" y="682.8" width="6.2" height="6.2" fill="#ff5600"/>
<rect x="1669.3" y="682.8" width="6.2" height="6.2" fill="#ff3e00"/>
<rect x="1675.1" y="682.8" width="6.2" height="6.2" fill="#ff6b00"/>
<rect x="1681.0" y="682.8" width="6.2" height="6.2" fill="#ff9d00"/>
<rect x="1686.9" y="682.8" width="6.2" height="6.2" fill="#ffd600"/>
<rect x="1692.7" y="682.8" width="6.2" height="6.2" fill="#f1ff0e"/>
<rect x="1698.6" y="682.8" width="6.2" height="6.2" fill="#c0ff40"/>
<rect x="1640.0" y="688.7" width="6.2" height="6.2" fill="#c7ff39"/>
<rect x="1645.9" y="688.7" width="6.2" height="6.2" fill="#fcff03"/>
<rect x="1651.7" y="688.7" width="6.2" height="6.2" fill="#ffbc00"/>
<rect x="1657.6" y="688.7" width="6.2" height="6.2" fill="#ffa200"/>
<rect x="1663.4" y="688.7" width="6.2" height="6.2" fill="#ff8700"/>
<rect x="1669.3" y="688.7" width="6.2" height="6.2" fill="#ff7e00"/>
<rect x="1675.1" y="688.7" width="6.2" height="6.2" fill="#ff9700"/>
<rect x="1681.0" y="688.7" width="6.2" height="6.2" fill="#ffb200"/>
<rect x="1686.9" y="688.7" width="6.2" height="6.2" fill="#ffe700"/>
<rect x="1692.7" y="688.7" width="6.2" height="6.2" fill="#deff22"/>
<rect x="1640.0" y="694.6" width="6.2" height="6.2" fill="#bdff43"/>
<rect x="1645.9" y="694.6" width="6.2" height="6.2" fill="#edff13"/>
<rect x="1651.7" y="694.6" width="6.2" height="6.2" fill="#ffe100"/>
<rect x="1657.6" y="694.6" width="6.2" height="6.2" fill="#ffb300"/>
<rect x="1663.4" y="694.6" width="6.2" height="6.2" fill="#ff9600"/>
<rect x="1669.3" y="694.6" width="6.2" height="6.2" fill="#ff7d00"/>
<rect x="1675.1" y="694.6" width="6.2" height="6.2" fill="#ff9a00"/>
<rect x="1681.0" y="694.6" width="6.2" height="6.2" fill="#ffb600"/>
<rect x="1686.9" y="694.6" width="6.2" height="6.2" fill="#fffe00"/>
<rect x="1692.7" y="694.6" width="6.2" height="6.2" fill="#c1ff3f"/>
<rect x="1640.0" y="700.4" width="6.2" height="6.2" fill="#baff46"/>
<rect x="1645.9" y="700.4" width="6.2" height="6.2" fill="#e7ff19"/>
<rect x="1651.7" y="700.4" width="6.2" height="6.2" fill="#fff100"/>
<rect x="1657.6" y="700.4" width="6.2" height="6.2" fill="#ffc100"/>
<rect x="1663.4" y="700.4" width="6.2" height="6.2" fill="#ff9f00"/>
<rect x="1669.3" y="700.4" width="6.2" height="6.2" fill="#ff7e00"/>
<rect x="1675.1" y="700.4" width="6.2" height="6.2" fill="#ff9d00"/>
<rect x="1681.0" y="700.4" width="6.2" height="6.2" fill="#ffbe00"/>
<rect x="1686.9" y="700.4" width="6.2" height="6.2" fill="#ecff14"/>
<rect x="1692.7" y="700.4" width="6.2" height="6.2" fill="#adff53"/>
<rect x="1774.7" y="700.4" width="6.2" height="6.2" fill="#aeff52"/>
<rect x="1780.6" y="700.4" width="6.2" height="6.2" fill="#b0ff50"/>
<rect x="1786.4" y="700.4" width="6.2" height="6.2" fill="#adff53"/>
<rect x="1640.0" y="706.3" width="6.2" height="6.2" fill="#baff46"/>
<rect x="1645.9" y="706.3" width="6.2" height="6.2" fill="#e5ff1a"/>
<rect x="1651.7" y="706.3" width="6.2" height="6.2" fill="#fff800"/>
<rect x="1657.6" y="706.3" width="6.2" height="6.2" fill="#ffcc00"/>
<rect x="1663.4" y="706.3" width="6.2" height="6.2" fill="#ffa400"/>
<rect x="1669.3" y="706.3" width="6.2" height="6.2" fill="#ff7e00"/>
<rect x="1675.1" y="706.3" width="6.2" height="6.2" fill="#ffa400"/>
<rect x="1681.0" y="706.3" width="6.2" height="6.2" fill="#ffda00"/>
<rect x="1686.9" y="706.3" width="6.2" height="6.2" fill="#daff25"/>
<rect x="1768.9" y="706.3" width="6.2" height="6.2" fill="#b1ff4f"/>
<rect x="1774.7" y="706.3" width="6.2" height="6.2" fill="#b7ff49"/>
<rect x="1780.6" y="706.3" width="6.2" height="6.2" fill="#b9ff47"/>
<rect x="1786.4" y="706.3" width="6.2" height="6.2" fill="#b7ff49"/>
<rect x="1792.3" y="706.3" width="6.2" height="6.2" fill="#afff51"/>
<rect x="1640.0" y="712.2" width="6.2" height="6.2" fill="#baff46"/>
<rect x="1645.9" y="712.2" width="6.2" height="6.2" fill="#e3ff1c"/>
<rect x="1651.7" y="712.2" width="6.2" height="6.2" fill="#fffd00"/>
<rect x="1657.6" y="712.2" width="6.2" height="6.2" fill="#ffd500"/>
<rect x="1663.4" y="712.2" width="6.2" height="6.2" fill="#ffaa00"/>
<rect x="1669.3" y="712.2" width="6.2" height="6.2" fill="#ff7f00"/>
<rect x="1675.1" y="712.2" width="6.2" height="6.2" fill="#ffad00"/>
<rect x="1681.0" y="712.2" width="6.2" height="6.2" fill="#fff300"/>
<rect x="1686.9" y="712.2" width="6.2" height="6.2" fill="#caff36"/>
<rect x="1763.0" y="712.2" width="6.2" height="6.2" fill="#adff53"/>
<rect x="1768.9" y="712.2" width="6.2" height="6.2" fill="#b8ff48"/>
<rect x="1774.7" y="712.2" width="6.2" height="6.2" fill="#bdff43"/>
<rect x="1780.6" y="712.2" width="6.2" height="6.2" fill="#beff42"/>
<rect x="1786.4" y="712.2" width="6.2" height="6.2" fill="#bdff43"/>
<rect x="1792.3" y="712.2" width="6.2" height="6.2" fill="#b7ff49"/>
<rect x="1798.1" y="712.2" width="6.2" height="6.2" fill="#aaff56"/>
<rect x="1640.0" y="718.0" width="6.2" height="6.2" fill="#b7ff49"/>
<rect x="1645.9" y="718.0" width="6.2" height="6.2" fill="#e2ff1e"/>
<rect x="1651.7" y="718.0" width="6.2" height="6.2" fill="#ffff00"/>
<rect x="1657.6" y="718.0" width="6.2" height="6.2" fill="#ffd700"/>
<rect x="1663.4" y="718.0" width="6.2" height="6.2" fill="#ffb200"/>
<rect x="1669.3" y="718.0" width="6.2" height="6.2" fill="#ff9b00"/>
<rect x="1675.1" y="718.0" width="6.2" height="6.2" fill="#ffba00"/>
<rect x="1681.0" y="718.0" width="6.2" height="6.2" fill="#faff05"/>
<rect x="1686.9" y="718.0" width="6.2" height="6.2" fill="#bcff44"/>
<rect x="1763.0" y="718.0" width="6.2" height="6.2" fill="#b4ff4c"/>
<rect x="1768.9" y="718.0" width="6.2" height="6.2" fill="#bdff43"/>
<rect x="1774.7" y="718.0" width="6.2" height="6.2" fill="#c1ff3f"/>
<rect x="1780.6" y="718.0" width="6.2" height="6.2" fill="#c2ff3e"/>
<rect x="1786.4" y="718.0" width="6.2" height="6.2" fill="#c0ff40"/>
<rect x="1792.3" y="718.0" width="6.2" height="6.2" fill="#bcff44"/>
<rect x="1798.1" y="718.0" width="6.2" height="6.2" fill="#b2ff4e"/>
<rect x="1640.0" y="723.9" width="6.2" height="6.2" fill="#b3ff4d"/>
<rect x="1645.9" y="723.9" width="6.2" height="6.2" fill="#e0ff1f"/>
<rect x="1651.7" y="723.9" width="6.2" height="6.2" fill="#feff01"/>
<rect x="1657.6" y="723.9" width="6.2" height="6.2" fill="#ffd700"/>
<rect x="1663.4" y="723.9" width="6.2" height="6.2" fill="#ffbb00"/>
<rect x="1669.3" y="723.9" width="6.2" height="6.2" fill="#ffb700"/>
<rect x="1675.1" y="723.9" width="6.2" height="6.2" fill="#ffc400"/>
<rect x="1681.0" y="723.9" width="6.2" height="6.2" fill="#edff12"/>
<rect x="1686.9" y="723.9" width="6.2" height="6.2" fill="#b0ff50"/>
<rect x="1763.0" y="723.9" width="6.2" height="6.2" fill="#b8ff48"/>
<rect x="1768.9" y="723.9" width="6.2" height="6.2" fill="#c0ff40"/>
<rect x="1774.7" y="723.9" width="12.0" height="6.2" fill="#c3ff3d"/>
<rect x="1786.4" y="723.9" width="6.2" height="6.2" fill="#c2ff3e"/>
<rect x="1792.3" y="723.9" width="6.2" height="6.2" fill="#bfff41"/>
<rect x="1798.1" y="723.9" width="6.2" height="6.2" fill="#b6ff4a"/>
<rect x="1640.0" y="729.7" width="6.2" height="6.2" fill="#b1ff4f"/>
<rect x="1645.9" y="729.7" width="6.2" height="6.2" fill="#dfff20"/>
<rect x="1651.7" y="729.7" width="6.2" height="6.2" fill="#fdff02"/>
<rect x="1657.6" y="729.7" width="6.2" height="6.2" fill="#ffd700"/>
<rect x="1663.4" y="729.7" width="6.2" height="6.2" fill="#ffc100"/>
<rect x="1669.3" y="729.7" width="6.2" height="6.2" fill="#ffc400"/>
<rect x="1675.1" y="729.7" width="6.2" height="6.2" fill="#ffce00"/>
<rect x="1681.0" y="729.7" width="6.2" height="6.2" fill="#e5ff1a"/>
<rect x="1686.9" y="729.7" width="6.2" height="6.2" fill="#a9ff57"/>
<rect x="1757.1" y="729.7" width="6.2" height="6.2" fill="#acff54"/>
<rect x="1763.0" y="729.7" width="6.2" height="6.2" fill="#bbff45"/>
<rect x="1768.9" y="729.7" width="6.2" height="6.2" fill="#c1ff3f"/>
<rect x="1774.7" y="729.7" width="6.2" height="6.2" fill="#c3ff3d"/>
<rect x="1780.6" y="729.7" width="6.2" height="6.2" fill="#c4ff3c"/>
<rect x="1786.4" y="729.7" width="6.2" height="6.2" fill="#c3ff3d"/>
<rect x="1792.3" y="729.7" width="6.2" height="6.2" fill="#c1ff3f"/>
<rect x="1798.1" y="729.7" width="6.2" height="6.2" fill="#b9ff47"/>
<rect x="1640.0" y="735.6" width="6.2" height="6.2" fill="#b1ff4f"/>
<rect x="1645.9" y="735.6" width="6.2" height="6.2" fill="#dfff20"/>
<rect x="1651.7" y="735.6" width="6.2" height="6.2" fill="#fdff02"/>
<rect x="1657.6" y="735.6" width="6.2" height="6.2" fill="#ffd700"/>
<rect x="1663.4" y="735.6" width="6.2" height="6.2" fill="#ffc100"/>
<rect x="1669.3" y="735.6" width="6.2" height="6.2" fill="#ffc400"/>
<rect x="1675.1" y="735.6" width="6.2" height="6.2" fill="#ffce00"/>
<rect x="1681.0" y="735.6" width="6.2" height="6.2" fill="#e3ff1d"/>
<rect x="1757.1" y="735.6" width="6.2" height="6.2" fill="#aeff52"/>
<rect x="1763.0" y="735.6" width="6.2" height="6.2" fill="#bcff44"/>
<rect x="1768.9" y="735.6" width="6.2" height="6.2" fill="#c2ff3e"/>
<rect x="1774.7" y="735.6" width="17.9" height="6.2" fill="#c4ff3c"/>
<rect x="1792.3" y="735.6" width="6.2" height="6.2" fill="#c1ff3f"/>
<rect x="1798.1" y="735.6" width="6.2" height="6.2" fill="#baff46"/>
<rect x="1640.0" y="741.5" width="6.2" height="6.2" fill="#b1ff4f"/>
<rect x="1645.9" y="741.5" width="6.2" height="6.2" fill="#dfff20"/>
<rect x="1651.7" y="741.5" width="6.2" height="6.2" fill="#fdff02"/>
<rect x="1657.6" y="741.5" width="6.2" height="6.2" fill="#ffd700"/>
<rect x="1663.4" y="741.5" width="6.2" height="6.2" fill="#ffc100"/>
<rect x="1669.3" y="741.5" width="6.2" height="6.2" fill="#ffc400"/>
<rect x="1675.1" y="741.5" width="6.2" height="6.2" fill="#ffcf00"/>
<rect x="1681.0" y="741.5" width="6.2" height="6.2" fill="#e0ff1f"/>
<rect x="1757.1" y="741.5" width="6.2" height="6.2" fill="#aeff52"/>
<rect x="1763.0" y="741.5" width="6.2" height="6.2" fill="#bcff44"/>
<rect x="1768.9" y="741.5" width="6.2" height="6.2" fill="#c2ff3e"/>
<rect x="1774.7" y="741.5" width="12.0" height="6.2" fill="#c4ff3c"/>
<rect x="1786.4" y="741.5" width="6.2" height="6.2" fill="#d0ff2f"/>
<rect x="1792.3" y="741.5" width="6.2" height="6.2" fill="#d3ff2c"/>
<rect x="1798.1" y="741.5" width="6.2" height="6.2" fill="#bbff45"/>
<rect x="1640.0" y="747.3" width="6.2" height="6.2" fill="#b1ff4f"/>
<rect x="1645.9" y="747.3" width="6.2" height="6.2" fill="#dfff20"/>
<rect x="1651.7" y="747.3" width="6.2" height="6.2" fill="#fdff02"/>
<rect x="1657.6" y="747.3" width="6.2" height="6.2" fill="#ffd700"/>
<rect x="1663.4" y="747.3" width="6.2" height="6.2" fill="#ffc100"/>
<rect x="1669.3" y="747.3" width="6.2" height="6.2" fill="#ffc400"/>
<rect x="1675.1" y="747.3" width="6.2" height="6.2" fill="#ffcf00"/>
<rect x="1681.0" y="747.3" width="6.2" height="6.2" fill="#deff22"/>
<rect x="1757.1" y="747.3" width="6.2" height="6.2" fill="#acff54"/>
<rect x="1763.0" y="747.3" width="6.2" height="6.2" fill="#bbff45"/>
<rect x="1768.9" y="747.3" width="6.2" height="6.2" fill="#c2ff3e"/>
<rect x="1774.7" y="747.3" width="6.2" height="6.2" fill="#c3ff3d"/>
<rect x="1780.6" y="747.3" width="6.2" height="6.2" fill="#c4ff3c"/>
<rect x="1786.4" y="747.3" width="6.2" height="6.2" fill="#deff22"/>
<rect x="1792.3" y="747.3" width="6.2" height="6.2" fill="#e0ff20"/>
<rect x="1798.1" y="747.3" width="6.2" height="6.2" fill="#ceff31"/>
<rect x="1604.9" y="753.2" width="6.2" height="6.2" fill="#acff54"/>
<rect x="1610.7" y="753.2" width="6.2" height="6.2" fill="#e6ff19"/>
<rect x="1616.6" y="753.2" width="6.2" height="6.2" fill="#ffd400"/>
<rect x="1622.4" y="753.2" width="6.2" height="6.2" fill="#ffba00"/>
<rect x="1628.3" y="753.2" width="6.2" height="6.2" fill="#ffb400"/>
<rect x="1634.1" y="753.2" width="6.2" height="6.2" fill="#ffad00"/>
<rect x="1640.0" y="753.2" width="12.0" height="6.2" fill="#ffa700"/>
<rect x="1651.7" y="753.2" width="6.2" height="6.2" fill="#ffad00"/>
<rect x="1657.6" y="753.2" width="6.2" height="6.2" fill="#ffb300"/>
<rect x="1663.4" y="753.2" width="6.2" height="6.2" fill="#ffb900"/>
<rect x="1669.3" y="753.2" width="6.2" height="6.2" fill="#ffc700"/>
<rect x="1675.1" y="753.2" width="6.2" height="6.2" fill="#fffb00"/>
<rect x="1681.0" y="753.2" width="6.2" height="6.2" fill="#ddff23"/>
<rect x="1686.9" y="753.2" width="6.2" height="6.2" fill="#a8ff58"/>
<rect x="1757.1" y="753.2" width="6.2" height="6.2" fill="#a9ff57"/>
<rect x="1763.0" y="753.2" width="6.2" height="6.2" fill="#b9ff47"/>
<rect x="1768.9" y="753.2" width="6.2" height="6.2" fill="#c0ff40"/>
<rect x="1774.7" y="753.2" width="6.2" height="6.2" fill="#c3ff3d"/>
<rect x="1780.6" y="753.2" width="6.2" height="6.2" fill="#cfff30"/>
<rect x="1786.4" y="753.2" width="6.2" height="6.2" fill="#e2ff1d"/>
<rect x="1792.3" y="753.2" width="6.2" height="6.2" fill="#e3ff1d"/>
<rect x="1798.1" y="753.2" width="6.2" height="6.2" fill="#d8ff28"/>
<rect x="1599.0" y="759.1" width="6.2" height="6.2" fill="#bdff43"/>
<rect x="1604.9" y="759.1" width="6.2" height="6.2" fill="#fffa00"/>
<rect x="1610.7" y="759.1" width="6.2" height="6.2" fill="#ffbc00"/>
<rect x="1616.6" y="759.1" width="6.2" height="6.2" fill="#ffb500"/>
<rect x="1622.4" y="759.1" width="6.2" height="6.2" fill="#ffae00"/>
<rect x="1628.3" y="759.1" width="6.2" height="6.2" fill="#ffa800"/>
<rect x="1634.1" y="759.1" width="6.2" height="6.2" fill="#ffa100"/>
<rect x="1640.0" y="759.1" width="6.2" height="6.2" fill="#ff9f00"/>
<rect x="1645.9" y="759.1" width="6.2" height="6.2" fill="#ffa500"/>
<rect x="1651.7" y="759.1" width="6.2" height="6.2" fill="#ffac00"/>
<rect x="1657.6" y="759.1" width="6.2" height="6.2" fill="#ffb300"/>
<rect x="1663.4" y="759.1" width="6.2" height="6.2" fill="#ffb900"/>
<rect x="1669.3" y="759.1" width="6.2" height="6.2" fill="#ffcb00"/>
<rect x="1675.1" y="759.1" width="6.2" height="6.2" fill="#fffc00"/>
<rect x="1681.0" y="759.1" width="6.2" height="6.2" fill="#deff21"/>
<rect x="1686.9" y="759.1" width="6.2" height="6.2" fill="#acff54"/>
<rect x="1763.0" y="759.1" width="6.2" height="6.2" fill="#b5ff4b"/>
<rect x="1768.9" y="759.1" width="6.2" height="6.2" fill="#beff42"/>
<rect x="1774.7" y="759.1" width="6.2" height="6.2" fill="#c1ff3f"/>
<rect x="1780.6" y="759.1" width="6.2" height="6.2" fill="#d3ff2d"/>
<rect x="1786.4" y="759.1" width="6.2" height="6.2" fill="#e3ff1d"/>
<rect x="1792.3" y="759.1" width="6.2" height="6.2" fill="#e3ff1c"/>
<rect x="1798.1" y="759.1" width="6.2" height="6.2" fill="#dbff25"/>
<rect x="1599.0" y="764.9" width="6.2" height="6.2" fill="#c2ff3e"/>
<rect x="1604.9" y="764.9" width="6.2" height="6.2" fill="#ffee00"/>
<rect x="1610.7" y="764.9" width="6.2" height="6.2" fill="#ffbb00"/>
<rect x="1616.6" y="764.9" width="6.2" height="6.2" fill="#ffb400"/>
<rect x="1622.4" y="764.9" width="6.2" height="6.2" fill="#ffae00"/>
<rect x="1628.3" y="764.9" width="6.2" height="6.2" fill="#ffa700"/>
<rect x="1634.1" y="764.9" width="6.2" height="6.2" fill="#ffa100"/>
<rect x="1640.0" y="764.9" width="6.2" height="6.2" fill="#ff9f00"/>
<rect x="1645.9" y="764.9" width="6.2" height="6.2" fill="#ffa500"/>
<rect x="1651.7" y="764.9" width="6.2" height="6.2" fill="#ffac00"/>
<rect x="1657.6" y="764.9" width="6.2" height="6.2" fill="#ffb200"/>
<rect x="1663.4" y="764.9" width="6.2" height="6.2" fill="#ffb800"/>
<rect x="1669.3" y="764.9" width="6.2" height="6.2" fill="#ffc400"/>
<rect x="1675.1" y="764.9" width="6.2" height="6.2" fill="#fff700"/>
<rect x="1681.0" y="764.9" width="6.2" height="6.2" fill="#e0ff1f"/>
<rect x="1686.9" y="764.9" width="6.2" height="6.2" fill="#aeff52"/>
<rect x="1763.0" y="764.9" width="6.2" height="6.2" fill="#afff51"/>
<rect x="1768.9" y="764.9" width="6.2" height="6.2" fill="#b9ff47"/>
<rect x="1774.7" y="764.9" width="6.2" height="6.2" fill="#beff42"/>
<rect x="1780.6" y="764.9" width="6.2" height="6.2" fill="#cfff30"/>
<rect x="1786.4" y="764.9" width="6.2" height="6.2" fill="#e2ff1d"/>
<rect x="1792.3" y="764.9" width="6.2" height="6.2" fill="#e3ff1d"/>
<rect x="1798.1" y="764.9" width="6.2" height="6.2" fill="#d8ff28"/>
<rect x="1599.0" y="770.8" width="6.2" height="6.2" fill="#c7ff39"/>
<rect x="1604.9" y="770.8" width="6.2" height="6.2" fill="#ffe100"/>
<rect x="1610.7" y="770.8" width="6.2" height="6.2" fill="#ffba00"/>
<rect x="1616.6" y="770.8" width="6.2" height="6.2" fill="#ffb400"/>
<rect x="1622.4" y="770.8" width="6.2" height="6.2" fill="#ffad00"/>
<rect x="1628.3" y="770.8" width="6.2" height="6.2" fill="#ffa700"/>
<rect x="1634.1" y="770.8" width="6.2" height="6.2" fill="#ffa100"/>
<rect x="1640.0" y="770.8" width="6.2" height="6.2" fill="#ff9f00"/>
<rect x="1645.9" y="770.8" width="6.2" height="6.2" fill="#ffa500"/>
<rect x="1651.7" y="770.8" width="6.2" height="6.2" fill="#ffab00"/>
<rect x="1657.6" y="770.8" width="6.2" height="6.2" fill="#ffb100"/>
<rect x="1663.4" y="770.8" width="6.2" height="6.2" fill="#ffb800"/>
<rect x="1669.3" y="770.8" width="6.2" height="6.2" fill="#ffbe00"/>
<rect x="1675.1" y="770.8" width="6.2" height="6.2" fill="#fff200"/>
<rect x="1681.0" y="770.8" width="6.2" height="6.2" fill="#e2ff1d"/>
<rect x="1686.9" y="770.8" width="6.2" height="6.2" fill="#b0ff50"/>
<rect x="1768.9" y="770.8" width="6.2" height="6.2" fill="#b2ff4e"/>
<rect x="1774.7" y="770.8" width="6.2" height="6.2" fill="#b9ff47"/>
<rect x="1780.6" y="770.8" width="6.2" height="6.2" fill="#c4ff3c"/>
<rect x="1786.4" y="770.8" width="6.2" height="6.2" fill="#deff21"/>
<rect x="1792.3" y="770.8" width="6.2" height="6.2" fill="#e0ff20"/>
<rect x="1798.1" y="770.8" width="6.2" height="6.2" fill="#ceff31"/>
<rect x="1599.0" y="776.6" width="6.2" height="6.2" fill="#cbff34"/>
<rect x="1604.9" y="776.6" width="6.2" height="6.2" fill="#ffd200"/>
<rect x="1610.7" y="776.6" width="6.2" height="6.2" fill="#ffb900"/>
<rect x="1616.6" y="776.6" width="6.2" height="6.2" fill="#ffb300"/>
<rect x="1622.4" y="776.6" width="6.2" height="6.2" fill="#ffad00"/>
<rect x="1628.3" y="776.6" width="6.2" height="6.2" fill="#ffa700"/>
<rect x="1634.1" y="776.6" width="6.2" height="6.2" fill="#ffa100"/>
<rect x="1640.0" y="776.6" width="6.2" height="6.2" fill="#ff9f00"/>
<rect x="1645.9" y="776.6" width="6.2" height="6.2" fill="#ffa500"/>
<rect x="1651.7" y="776.6" width="6.2" height="6.2" fill="#ffab00"/>
<rect x="1657.6" y="776.6" width="6.2" height="6.2" fill="#ffb100"/>
<rect x="1663.4" y="776.6" width="6.2" height="6.2" fill="#ffb700"/>
<rect x="1669.3" y="776.6" width="6.2" height="6.2" fill="#ffbd00"/>
<rect x="1675.1" y="776.6" width="6.2" height="6.2" fill="#ffec00"/>
<rect x="1681.0" y="776.6" width="6.2" height="6.2" fill="#e4ff1b"/>
<rect x="1686.9" y="776.6" width="6.2" height="6.2" fill="#b2ff4e"/>
<rect x="1768.9" y="776.6" width="6.2" height="6.2" fill="#a8ff58"/>
<rect x="1774.7" y="776.6" width="6.2" height="6.2" fill="#b0ff50"/>
<rect x="1780.6" y="776.6" width="6.2" height="6.2" fill="#b2ff4e"/>
<rect x="1786.4" y="776.6" width="6.2" height="6.2" fill="#d1ff2f"/>
<rect x="1792.3" y="776.6" width="6.2" height="6.2" fill="#d4ff2c"/>
<rect x="1798.1" y="776.6" width="6.2" height="6.2" fill="#baff46"/>
</g>
<path d="M1637 167V782.5" stroke="#fff" stroke-width="7.5" stroke-dasharray="15 14.9"/>
<path d="M1188.3 615.4H1804" stroke="#fff" stroke-width="7.5" stroke-dasharray="15 14.9"/>
<path d="M1188.3 167V782.5H1804" fill="none" stroke="#000" stroke-width="2"/>
<path d="M1181.3 263.6H1188.3" stroke="#000" stroke-width="2"/>
<text x="1168.3" y="276.9" font-size="45.3" text-anchor="end" fill="#262626">-1.5</text>
<path d="M1285.3 782.5V789.5" stroke="#000" stroke-width="2"/>
<text x="1285.3" y="836" font-size="45.3" text-anchor="middle" fill="#262626">-1.5</text>
<path d="M1181.3 380.9H1188.3" stroke="#000" stroke-width="2"/>
<text x="1168.3" y="394.2" font-size="45.3" text-anchor="end" fill="#262626">-1</text>
<path d="M1402.5 782.5V789.5" stroke="#000" stroke-width="2"/>
<text x="1402.5" y="836" font-size="45.3" text-anchor="middle" fill="#262626">-1</text>
<path d="M1181.3 498.1H1188.3" stroke="#000" stroke-width="2"/>
<text x="1168.3" y="511.4" font-size="45.3" text-anchor="end" fill="#262626">-0.5</text>
<path d="M1519.6 782.5V789.5" stroke="#000" stroke-width="2"/>
<text x="1519.6" y="836" font-size="45.3" text-anchor="middle" fill="#262626">-0.5</text>
<path d="M1181.3 615.4H1188.3" stroke="#000" stroke-width="2"/>
<text x="1168.3" y="628.7" font-size="45.3" text-anchor="end" fill="#262626">0</text>
<path d="M1636.8 782.5V789.5" stroke="#000" stroke-width="2"/>
<text x="1636.8" y="836" font-size="45.3" text-anchor="middle" fill="#262626">0</text>
<path d="M1181.3 732.6H1188.3" stroke="#000" stroke-width="2"/>
<text x="1168.3" y="745.9" font-size="45.3" text-anchor="end" fill="#262626">0.5</text>
<path d="M1754.0 782.5V789.5" stroke="#000" stroke-width="2"/>
<text x="1754.0" y="836" font-size="45.3" text-anchor="middle" fill="#262626">0.5</text>
<text x="1146.20" y="884.10" font-size="48.67" font-weight="normal" fill="#262626">Pro/Anti d’ aligned to stim onset (s)</text>
<text transform="translate(1076.70 853.45) rotate(-90)" font-size="48.55" font-weight="normal" fill="#262626">Choice d’ aligned to stim onset (s)</text>
<text transform="translate(1836.90 604.11) rotate(-90)" font-size="44.21" font-weight="normal" fill="#000">delay</text>
<text transform="translate(1836.90 762.44) rotate(-90)" font-size="44.93" font-weight="normal" fill="#000">choice</text>
<circle cx="1822.6" cy="167.2" r="1" fill="#333"/><circle cx="1822.6" cy="782.2" r="1" fill="#333"/>
<defs>
<linearGradient id="gpos" x1="0" y1="156.9" x2="0" y2="347.2" gradientUnits="userSpaceOnUse"><stop offset="0.0091" stop-color="#7a0000"/><stop offset="0.2796" stop-color="#ff0000"/><stop offset="0.5359" stop-color="#ff8000"/><stop offset="0.7685" stop-color="#ffff00"/><stop offset="0.9299" stop-color="#c0ff40"/><stop offset="1.0000" stop-color="#a8ff58"/></linearGradient>
<linearGradient id="gneg" x1="0" y1="608.1" x2="0" y2="791.8" gradientUnits="userSpaceOnUse"><stop offset="0.0000" stop-color="#60ffa0"/><stop offset="0.1247" stop-color="#40ffd0"/><stop offset="0.2328" stop-color="#00ffff"/><stop offset="0.4197" stop-color="#0090ff"/><stop offset="0.5918" stop-color="#0040ff"/><stop offset="0.7442" stop-color="#0000ff"/><stop offset="0.9949" stop-color="#00008a"/></linearGradient>
</defs>
<rect x="1889.0" y="156.9" width="81.5" height="190.3" fill="url(#gpos)"/>
<rect x="1889.0" y="347.2" width="81.5" height="260.9" fill="#80ff80"/>
<rect x="1889.0" y="608.1" width="81.5" height="183.7" fill="url(#gneg)"/>
<rect x="1889.5" y="157.4" width="80.5" height="633.9" fill="none" stroke="#000" stroke-opacity="0.3" stroke-width="1.2"/>
<path d="M1889.0 347.2H1970.5M1889.0 608.1H1970.5" stroke="#000" stroke-width="8" stroke-dasharray="9 9.3" stroke-dashoffset="8"/>
<path d="M1970.5 203.8H1980.5" stroke="#262626" stroke-width="2"/>
<text x="1987" y="215.3" font-size="45.3" fill="#262626">0.3</text>
<path d="M1970.5 294.1H1980.5" stroke="#262626" stroke-width="2"/>
<text x="1987" y="305.6" font-size="45.3" fill="#262626">0.2</text>
<path d="M1970.5 384.4H1980.5" stroke="#262626" stroke-width="2"/>
<text x="1987" y="395.9" font-size="45.3" fill="#262626">0.1</text>
<path d="M1970.5 474.8H1980.5" stroke="#262626" stroke-width="2"/>
<text x="1987" y="486.2" font-size="45.3" fill="#262626">0</text>
<path d="M1970.5 565.1H1980.5" stroke="#262626" stroke-width="2"/>
<text x="1987" y="576.6" font-size="45.3" fill="#262626">-0.1</text>
<path d="M1970.5 655.4H1980.5" stroke="#262626" stroke-width="2"/>
<text x="1987" y="666.9" font-size="45.3" fill="#262626">-0.2</text>
<path d="M1970.5 745.7H1980.5" stroke="#262626" stroke-width="2"/>
<text x="1987" y="757.2" font-size="45.3" fill="#262626">-0.3</text>
<text x="1891.86" y="487.80" font-size="46.06" font-weight="normal" fill="#262626">n.s.</text>
<text transform="translate(2113.50 574.04) rotate(-90)" font-size="44.99" font-weight="normal" fill="#262626">correlation</text>
</g>
</svg></body></html>
